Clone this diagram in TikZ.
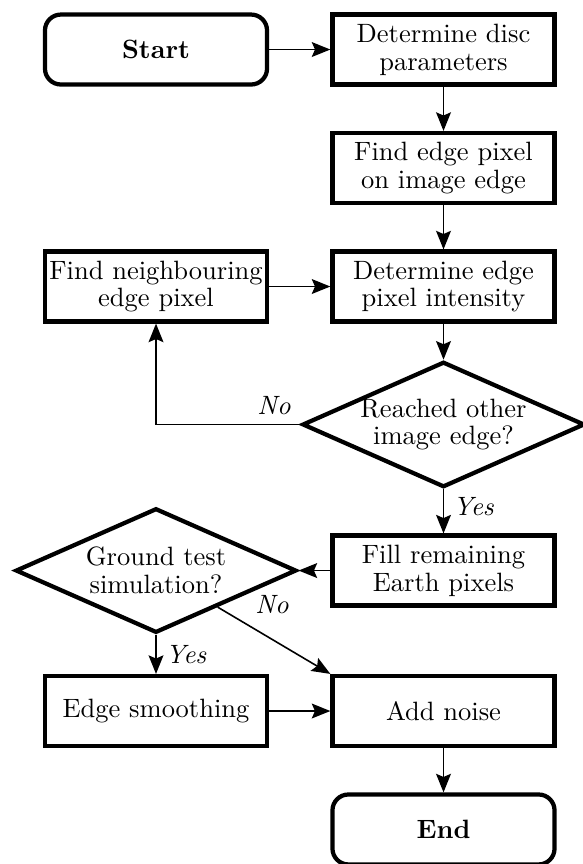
\documentclass[tikz,border=0pt]{standalone}
\usepackage{amsmath}
\usepackage{tikz}
\usetikzlibrary{calc}
\usetikzlibrary{positioning}
\usetikzlibrary{shapes}
\usetikzlibrary{arrows.meta}

\begin{document}
\begin{tikzpicture}[
		box/.style={rectangle, draw, ultra thick, minimum width=83.8pt, minimum height=26.4pt, inner sep=1pt, align=center, font=\fontsize{10}{10.5}\selectfont},
		term/.style={box, rounded corners=6pt, font=\fontsize{10}{10.5}\selectfont\bfseries},
		decision/.style={diamond, draw, ultra thick, aspect=2.25, minimum width=106pt, minimum height=47pt, inner sep=0pt, align=center, font=\fontsize{10}{10.5}\selectfont},
		flow/.style={semithick, -{Stealth[length=7pt, width=5.6pt, inset=1.2pt]}}
	]
				\useasboundingbox (0,0) rectangle (7.719,-11.459);
				
				\node[term] (start) at (2.069,-0.657) {Start};
				\node[box] (disc) at (5.882,-0.657) {Determine disc\\parameters};
				\node[box] (pix) at (5.882,-2.228) {Find edge pixel\\on image edge};
				\node[box] (intens) at (5.882,-3.800) {Determine edge\\pixel intensity};
				\node[box] (neigh) at (2.069,-3.800) {Find neighbouring\\edge pixel};
				\node[decision] (other) at (5.882,-5.630) {Reached other\\image edge?};
				\node[box] (fill) at (5.882,-7.567) {Fill remaining\\Earth pixels};
				\node[decision] (ground) at (2.069,-7.567) {Ground test\\simulation?};
				\node[box] (smooth) at (2.069,-9.430) {Edge smoothing};
				\node[box] (noise) at (5.882,-9.430) {Add noise};
				\node[term] (end) at (5.882,-11.001) {End};
				
				\draw[flow] (start) -- (disc);
				\draw[flow] (disc) -- (pix);
				\draw[flow] (pix) -- (intens);
				\draw[flow] (neigh) -- (intens);
				\draw[flow] (intens) -- (other);
				\draw[flow] (other) -- (fill) node[pos=0.4,right] () {\textit{Yes}};
				\draw[flow] (other.west) node[above left] () {\textit{No}} -| (neigh);
				
				\draw[flow] (fill) -- (ground);
				\draw[flow] (ground) -- (smooth) node[midway,right] () {\textit{Yes}};
				\draw[flow] (ground) -- (noise.north west) node[pos=0.25,above right] () {\textit{No}};
				\draw[flow] (smooth) -- (noise);
				\draw[flow] (noise) -- (end);
			\end{tikzpicture}
\end{document}
